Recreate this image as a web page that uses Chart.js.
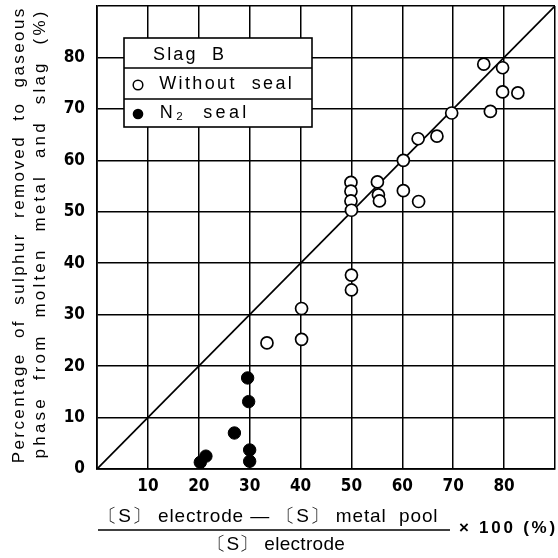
<!DOCTYPE html>
<html>
<head>
<meta charset="utf-8">
<script src="https://cdn.jsdelivr.net/npm/chart.js@4"></script>
<style>
html,body{margin:0;padding:0;background:#fff;}
#wrap{width:558px;height:558px;}
</style>
</head>
<body>
<div id="wrap"><canvas id="c" width="558" height="558"></canvas></div>
<script>
// ---- data ----
const axisRange = [0, 90];
const xTickLabels = [10, 20, 30, 40, 50, 60, 70, 80];
const yTickLabels = [0, 10, 20, 30, 40, 50, 60, 70, 80];

const withoutSealX = [76, 79.7, 79.7, 82.7, 77.3, 69.7, 66.8, 63.1, 60.2, 60.2, 63.2, 55.1, 55.3, 55.5, 49.9, 49.9, 49.9, 50, 50, 50, 40.2, 40.2, 33.4];
const withoutSealY = [78.7, 78, 73.3, 73.1, 69.5, 69.2, 64.7, 64.2, 60, 54.1, 52, 55.8, 53.3, 52.1, 55.7, 54, 52.1, 50.3, 37.7, 34.8, 31.2, 25.2, 24.5];

const n2SealX = [29.6, 29.8, 27, 30, 30, 21.4, 20.3];
const n2SealY = [17.7, 13.1, 7, 3.7, 1.5, 2.5, 1.3];

const diagX = [0, 90];
const diagY = [0, 90];

const legendTitle = "Slag  B";
const legendItems = ["Without  seal", "N\u2082  seal"];
const yTitleLines = ["Percentage  of  sulphur  removed  to  gaseous", "phase  from  molten  metal  and  slag  (%)"];
const xTitleNum = "\u3014S\u3015 electrode \u2014 \u3014S\u3015 metal  pool";
const xTitleDen = "\u3014S\u3015 electrode";
const xTitleMul = "\u00d7 100 (%)";

const toPts = (xs, ys) => xs.map((x, i) => ({x: x, y: ys[i]}));
const tickFont = {family: '"Liberation Sans Narrow", "DejaVu Sans Condensed", "Liberation Sans", sans-serif', size: 17, weight: 'bold'};

function spacedText(ctx, text, cx, cy, target) {
  ctx.letterSpacing = '0px';
  const w = ctx.measureText(text).width;
  let ls = (target - w) / text.length;
  if (ls < -1) ls = -1;
  ctx.letterSpacing = ls + 'px';
  ctx.fillText(text, cx + ls / 2, cy);
  ctx.letterSpacing = '0px';
}

const annot = {
  id: 'annot',
  afterDatasetsDraw(chart) {
    const ctx = chart.ctx;
    ctx.save();
    const L = 124, R = 312, T = 38, B = 127, d1 = 68, d2 = 99;
    ctx.fillStyle = '#fff';
    ctx.fillRect(L, T, R - L, B - T);
    ctx.strokeStyle = '#000';
    ctx.lineWidth = 1.6;
    ctx.strokeRect(L, T, R - L, B - T);
    ctx.beginPath();
    ctx.moveTo(L, d1); ctx.lineTo(R, d1);
    ctx.moveTo(L, d2); ctx.lineTo(R, d2);
    ctx.stroke();
    ctx.fillStyle = '#000';
    ctx.font = '18px "Liberation Sans"';
    ctx.textBaseline = 'middle';
    ctx.textAlign = 'center';
    spacedText(ctx, legendTitle, 188.5, 55, 73);
    spacedText(ctx, legendItems[0], 225.5, 84, 135);
    spacedText(ctx, legendItems[1], 203, 113, 90);
    ctx.lineWidth = 1.5;
    ctx.beginPath(); ctx.arc(138, 85, 4.8, 0, Math.PI * 2); ctx.stroke();
    ctx.beginPath(); ctx.arc(138, 114, 5.3, 0, Math.PI * 2); ctx.fill();
    ctx.restore();
  },
  afterDraw(chart) {
    const ctx = chart.ctx;
    ctx.save();
    ctx.fillStyle = '#000';
    ctx.textAlign = 'center';
    ctx.textBaseline = 'middle';
    ctx.font = '17px "Liberation Sans"';
    ctx.save();
    ctx.translate(19, 236);
    ctx.rotate(-Math.PI / 2);
    spacedText(ctx, yTitleLines[0], 0, 0, 457);
    ctx.restore();
    ctx.save();
    ctx.translate(40, 235);
    ctx.rotate(-Math.PI / 2);
    spacedText(ctx, yTitleLines[1], 0, 0, 450);
    ctx.restore();
    ctx.font = '19px "Liberation Sans"';
    spacedText(ctx, xTitleNum, 268, 517, 340);
    spacedText(ctx, xTitleDen, 276, 545, 138);
    ctx.strokeStyle = '#000';
    ctx.lineWidth = 1.6;
    ctx.beginPath(); ctx.moveTo(98, 530); ctx.lineTo(450, 530); ctx.stroke();
    ctx.font = 'bold 17px "Liberation Sans"';
    spacedText(ctx, xTitleMul, 507, 528, 99);
    ctx.restore();
  }
};

function zeroPad(s) { s.paddingLeft = 0; s.paddingRight = 0; s.paddingTop = 0; s.paddingBottom = 0; }

new Chart(document.getElementById('c'), {
  type: 'scatter',
  data: {
    datasets: [
      {
        type: 'line',
        data: toPts(diagX, diagY),
        borderColor: '#000',
        borderWidth: 1.7,
        pointRadius: 0,
        fill: false,
        order: 3
      },
      {
        data: toPts(withoutSealX, withoutSealY),
        pointRadius: 6,
        pointBorderWidth: 1.7,
        pointBorderColor: '#000',
        pointBackgroundColor: '#fff',
        order: 1
      },
      {
        data: toPts(n2SealX, n2SealY),
        pointRadius: 6.2,
        pointBorderWidth: 1,
        pointBorderColor: '#000',
        pointBackgroundColor: '#000',
        order: 2
      }
    ]
  },
  options: {
    responsive: false,
    animation: false,
    layout: {autoPadding: false, padding: {left: 0, right: 3, top: 6, bottom: 0}},
    plugins: {legend: {display: false}, tooltip: {enabled: false}, title: {display: false}},
    scales: {
      x: {
        type: 'linear',
        min: axisRange[0], max: axisRange[1],
        afterFit(s) { s.height = 89; zeroPad(s); },
        afterBuildTicks(s) { s.ticks = [0].concat(xTickLabels, [90]).map(v => ({value: v})); },
        ticks: {
          color: '#000',
          font: tickFont,
          padding: 7,
          maxRotation: 0,
          autoSkip: false,
          callback: v => xTickLabels.includes(v) ? String(v) : ''
        },
        grid: {color: '#000', lineWidth: 1.5, drawTicks: false},
        border: {color: '#000', width: 1.7}
      },
      y: {
        type: 'linear',
        min: axisRange[0], max: axisRange[1],
        afterFit(s) { s.width = 97; zeroPad(s); },
        afterBuildTicks(s) { s.ticks = yTickLabels.concat([90]).map(v => ({value: v})); },
        ticks: {
          color: '#000',
          font: tickFont,
          padding: 12,
          autoSkip: false,
          callback: v => yTickLabels.includes(v) ? String(v) : ''
        },
        grid: {color: '#000', lineWidth: 1.5, drawTicks: false},
        border: {color: '#000', width: 1.7}
      }
    }
  },
  plugins: [annot]
});
</script>
</body>
</html>
